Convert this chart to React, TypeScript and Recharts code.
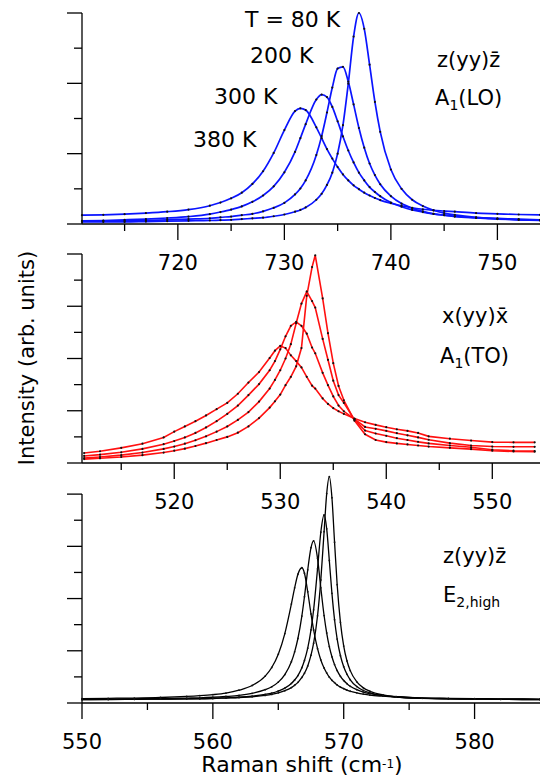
import React from 'react';
import { LineChart, Line, XAxis, YAxis, ReferenceLine } from 'recharts';

// ---------- Panel 1: A1(LO), blue ----------
const loX = [711, 713, 715, 717, 719, 721, 723, 724, 725, 726, 727, 728, 729, 730, 731, 731.5, 732, 733, 733.5, 734, 734.5, 735, 735.5, 736, 736.5, 737, 737.5, 738, 738.5, 739, 740, 741, 742, 743, 744, 745, 746, 748, 750, 752, 754];
const lo80K = [0.06, 0.06, 0.06, 0.07, 0.08, 0.09, 0.10, 0.11, 0.12, 0.14, 0.16, 0.18, 0.22, 0.27, 0.35, 0.40, 0.47, 0.69, 0.86, 1.11, 1.46, 2.00, 2.81, 3.99, 5.33, 6.00, 5.55, 4.53, 3.47, 2.62, 1.55, 1.00, 0.69, 0.51, 0.39, 0.31, 0.26, 0.19, 0.15, 0.12, 0.10];
const lo200K = [0.08, 0.09, 0.09, 0.10, 0.12, 0.14, 0.16, 0.19, 0.21, 0.25, 0.29, 0.36, 0.46, 0.60, 0.84, 1.01, 1.24, 1.96, 2.50, 3.17, 3.88, 4.42, 4.47, 4.05, 3.40, 2.73, 2.17, 1.72, 1.39, 1.13, 0.79, 0.58, 0.45, 0.36, 0.29, 0.25, 0.21, 0.17, 0.14, 0.12, 0.11];
const lo300K = [0.09, 0.10, 0.12, 0.14, 0.17, 0.21, 0.28, 0.34, 0.41, 0.50, 0.63, 0.81, 1.07, 1.47, 2.05, 2.44, 2.84, 3.54, 3.68, 3.61, 3.33, 2.92, 2.49, 2.09, 1.75, 1.46, 1.24, 1.05, 0.91, 0.79, 0.61, 0.49, 0.40, 0.34, 0.29, 0.25, 0.22, 0.18, 0.16, 0.14, 0.12];
const lo380K = [0.25, 0.26, 0.28, 0.31, 0.35, 0.41, 0.52, 0.61, 0.73, 0.89, 1.14, 1.50, 2.02, 2.67, 3.21, 3.29, 3.24, 2.75, 2.44, 2.13, 1.86, 1.62, 1.41, 1.24, 1.10, 0.99, 0.89, 0.81, 0.74, 0.68, 0.59, 0.52, 0.46, 0.42, 0.39, 0.37, 0.35, 0.31, 0.29, 0.27, 0.26];
const loXTicks = [715, 720, 725, 730, 735, 740, 745, 750];
const loYTicks = [0, 1, 2, 3, 4, 5, 6];

// ---------- Panel 2: A1(TO), red ----------
const toX = [511.5, 513, 515, 517, 519, 520, 521, 522, 523, 524, 525, 526, 527, 528, 529, 529.5, 530, 530.5, 531, 531.5, 532, 532.5, 533, 533.3, 534, 534.5, 535, 535.5, 536, 537, 538, 539, 540, 541, 542, 543, 544, 546, 548, 550, 552, 554];
const to80K = [0.15, 0.18, 0.23, 0.30, 0.40, 0.47, 0.55, 0.65, 0.76, 0.88, 1.00, 1.16, 1.40, 1.72, 2.12, 2.36, 2.62, 2.98, 3.30, 3.70, 4.40, 6.40, 7.50, 7.95, 6.30, 4.97, 3.82, 2.95, 2.40, 1.62, 1.10, 0.88, 0.80, 0.75, 0.71, 0.67, 0.63, 0.58, 0.53, 0.47, 0.44, 0.43];
const to200K = [0.19, 0.23, 0.30, 0.40, 0.54, 0.63, 0.74, 0.87, 1.02, 1.20, 1.40, 1.65, 1.95, 2.35, 2.85, 3.18, 3.55, 4.00, 4.55, 5.35, 6.10, 6.56, 6.20, 5.95, 4.75, 3.95, 3.15, 2.60, 2.30, 1.66, 1.24, 1.13, 1.04, 0.95, 0.88, 0.81, 0.75, 0.67, 0.60, 0.51, 0.47, 0.46];
const to300K = [0.27, 0.32, 0.41, 0.54, 0.72, 0.84, 0.98, 1.15, 1.36, 1.60, 1.88, 2.20, 2.60, 3.02, 3.55, 3.90, 4.35, 4.85, 5.25, 5.40, 5.25, 4.95, 4.42, 4.20, 3.45, 2.98, 2.55, 2.20, 1.98, 1.68, 1.38, 1.31, 1.23, 1.14, 1.06, 0.98, 0.89, 0.76, 0.67, 0.63, 0.62, 0.62];
const to380K = [0.38, 0.45, 0.58, 0.74, 0.98, 1.20, 1.40, 1.60, 1.82, 2.06, 2.30, 2.65, 3.08, 3.48, 4.02, 4.30, 4.48, 4.40, 4.12, 3.90, 3.66, 3.30, 2.96, 2.85, 2.47, 2.26, 2.10, 1.98, 1.88, 1.70, 1.56, 1.46, 1.37, 1.29, 1.23, 1.15, 1.02, 0.93, 0.86, 0.80, 0.79, 0.79];
const toXTicks = [515, 520, 525, 530, 535, 540, 545, 550];
const toYTicks = [0, 1, 2, 3, 4, 5, 6, 7, 8];

// ---------- Panel 3: E2,high, black ----------
const e2X = [550, 552, 554, 556, 558, 559, 560, 561, 562, 563, 564, 564.5, 565, 565.5, 566, 566.25, 566.5, 566.8, 567, 567.25, 567.5, 567.7, 568, 568.25, 568.5, 568.7, 568.9, 569.1, 569.3, 569.5, 569.75, 570, 570.25, 570.5, 571, 571.5, 572, 573, 574, 576, 578, 580, 582, 585];
const e280K = [0.13, 0.13, 0.14, 0.15, 0.16, 0.16, 0.17, 0.19, 0.21, 0.24, 0.29, 0.33, 0.39, 0.47, 0.59, 0.68, 0.79, 0.98, 1.14, 1.42, 1.83, 2.29, 3.34, 4.71, 6.56, 8.02, 8.67, 7.86, 6.16, 4.53, 3.09, 2.18, 1.61, 1.24, 0.81, 0.58, 0.45, 0.31, 0.24, 0.19, 0.16, 0.15, 0.14, 0.13];
const e2200K = [0.13, 0.14, 0.14, 0.15, 0.16, 0.17, 0.18, 0.20, 0.22, 0.26, 0.33, 0.38, 0.46, 0.57, 0.75, 0.88, 1.05, 1.35, 1.63, 2.10, 2.80, 3.57, 5.14, 6.54, 7.20, 6.67, 5.46, 4.20, 3.19, 2.45, 1.81, 1.39, 1.10, 0.89, 0.63, 0.48, 0.39, 0.29, 0.23, 0.18, 0.16, 0.15, 0.14, 0.13];
const e2300K = [0.15, 0.15, 0.16, 0.17, 0.19, 0.20, 0.22, 0.25, 0.29, 0.37, 0.51, 0.62, 0.80, 1.09, 1.58, 1.96, 2.47, 3.33, 4.07, 5.10, 5.95, 6.21, 5.54, 4.41, 3.35, 2.68, 2.16, 1.77, 1.47, 1.24, 1.02, 0.86, 0.74, 0.64, 0.51, 0.42, 0.36, 0.28, 0.24, 0.19, 0.17, 0.16, 0.15, 0.14];
const e2380K = [0.17, 0.18, 0.19, 0.21, 0.25, 0.28, 0.32, 0.38, 0.49, 0.67, 1.03, 1.36, 1.87, 2.66, 3.79, 4.41, 4.93, 5.18, 4.97, 4.26, 3.41, 2.80, 2.08, 1.65, 1.34, 1.15, 0.99, 0.87, 0.78, 0.69, 0.61, 0.55, 0.49, 0.45, 0.39, 0.34, 0.30, 0.26, 0.23, 0.19, 0.18, 0.17, 0.16, 0.15];
const e2XTicks = [550, 555, 560, 565, 570, 575, 580];
const e2YTicks = [0, 1, 2, 3, 4, 5, 6, 7, 8];

const FONT = '"DejaVu Sans", "Liberation Sans", Arial, sans-serif';

function buildRows(xs: number[], series: Record<string, number[]>) {
  return xs.map((x, i) => {
    const r: Record<string, number> = { x };
    Object.keys(series).forEach((k) => {
      r[k] = series[k][i];
    });
    return r;
  });
}

const XTick = (p: any) => {
  const v = p.payload.value;
  const major = v % 10 === 0;
  return (
    <g>
      <line x1={p.x} x2={p.x} y1={p.y} y2={p.y + (major ? 16 : 7)} stroke="#000" strokeWidth={1.3} />
      {major && (
        <text x={p.x} y={p.y + 46} textAnchor="middle" fontSize={21} fontFamily={FONT} fill="#000">
          {v}
        </text>
      )}
    </g>
  );
};

const YTick = (p: any) => {
  const v = p.payload.value;
  const len = v % 2 === 0 ? 15 : 8;
  return <line x1={p.x - len} x2={p.x} y1={p.y} y2={p.y} stroke="#000" strokeWidth={1.3} />;
};

type PanelProps = {
  data: Record<string, number>[];
  keys: string[];
  color: string;
  xDomain: [number, number];
  xTicks: number[];
  yDomain: [number, number];
  yTicks: number[];
  top: number;
  axisY: number;
  lineType: 'monotone' | 'linear';
  strokeWidth: number;
  dotR: number;
  segmentTop?: number;
};

function Panel(props: PanelProps) {
  const XH = 50;
  return (
    <div style={{ position: 'absolute', left: 0, top: 0 }}>
      <LineChart
        width={540}
        height={783}
        data={props.data}
        margin={{ top: props.top, right: 0, bottom: 783 - props.axisY - XH, left: 0 }}
      >
        <XAxis
          type="number"
          dataKey="x"
          domain={props.xDomain}
          ticks={props.xTicks}
          interval={0}
          tick={XTick}
          tickLine={false}
          tickSize={0}
          tickMargin={0}
          height={XH}
          axisLine={{ stroke: '#000', strokeWidth: 1.3 }}
        />
        <YAxis
          type="number"
          domain={props.yDomain}
          ticks={props.yTicks}
          interval={0}
          tick={YTick}
          tickLine={false}
          tickSize={0}
          tickMargin={0}
          width={82}
          axisLine={props.segmentTop === undefined ? { stroke: '#000', strokeWidth: 1.3 } : false}
        />
        {props.segmentTop !== undefined && (
          <ReferenceLine
            segment={[
              { x: props.xDomain[0], y: 0 },
              { x: props.xDomain[0], y: props.segmentTop },
            ]}
            stroke="#000"
            strokeWidth={1.3}
          />
        )}
        {props.keys.map((k) => (
          <Line
            key={k}
            dataKey={k}
            type={props.lineType}
            stroke={props.color}
            strokeWidth={props.strokeWidth}
            dot={{ r: props.dotR, fill: '#111', stroke: 'none', strokeWidth: 0 }}
            activeDot={false}
            isAnimationActive={false}
          />
        ))}
      </LineChart>
    </div>
  );
}

const loRows = buildRows(loX, { t80: lo80K, t200: lo200K, t300: lo300K, t380: lo380K });
const toRows = buildRows(toX, { t80: to80K, t200: to200K, t300: to300K, t380: to380K });
const e2Rows = buildRows(e2X, { t80: e280K, t200: e2200K, t300: e2300K, t380: e2380K });
const KEYS = ['t380', 't300', 't200', 't80'];

export default function App() {
  return (
    <div style={{ position: 'absolute', left: 0, top: 0, width: 540, height: 783, background: '#fff', overflow: 'hidden' }}>
      <Panel data={loRows} keys={KEYS} color="#0a14ff" xDomain={[711, 754]} xTicks={loXTicks} yDomain={[0, 6]} yTicks={loYTicks} top={13} axisY={224} lineType="monotone" strokeWidth={1.7} dotR={1.1} />
      <Panel data={toRows} keys={KEYS} color="#ff1010" xDomain={[511.3, 554.5]} xTicks={toXTicks} yDomain={[0, 8]} yTicks={toYTicks} top={254} axisY={463} lineType="linear" strokeWidth={1.6} dotR={1.1} />
      <Panel data={e2Rows} keys={KEYS} color="#000" xDomain={[550, 585]} xTicks={e2XTicks} yDomain={[0, 9]} yTicks={e2YTicks} top={468} axisY={703} lineType="monotone" strokeWidth={1.3} dotR={0.9} segmentTop={8} />
      <svg width={540} height={783} style={{ position: 'absolute', left: 0, top: 0, pointerEvents: 'none' }}>
        <g fontFamily={FONT} fill="#000">
          <text x={245} y={27} fontSize={22}>T = 80 K</text>
          <text x={250} y={63} fontSize={22}>200 K</text>
          <text x={214} y={104} fontSize={22}>300 K</text>
          <text x={193} y={147} fontSize={22}>380 K</text>

          <text x={437} y={67} fontSize={21}>{'z(yy)z\u0304'}</text>
          <text x={435} y={105} fontSize={21}>
            A<tspan fontSize={14} dy={5}>1</tspan>
            <tspan dy={-5}>(LO)</tspan>
          </text>

          <text x={442} y={323} fontSize={21}>{'x(yy)x\u0304'}</text>
          <text x={440} y={363} fontSize={21}>
            A<tspan fontSize={14} dy={5}>1</tspan>
            <tspan dy={-5}>(TO)</tspan>
          </text>

          <text x={443} y={563} fontSize={21}>{'z(yy)z\u0304'}</text>
          <text x={443} y={602} fontSize={21}>
            E<tspan fontSize={14} dy={5}>2,high</tspan>
          </text>

          <text transform="rotate(-90)" x={-358} y={34} textAnchor="middle" fontSize={21}>
            Intensity (arb. units)
          </text>
          <text x={302} y={772} textAnchor="middle" fontSize={22}>
            Raman shift (cm<tspan fontSize={12} dy={-4.5}>-1</tspan>
            <tspan dy={4.5}>)</tspan>
          </text>
        </g>
      </svg>
    </div>
  );
}
